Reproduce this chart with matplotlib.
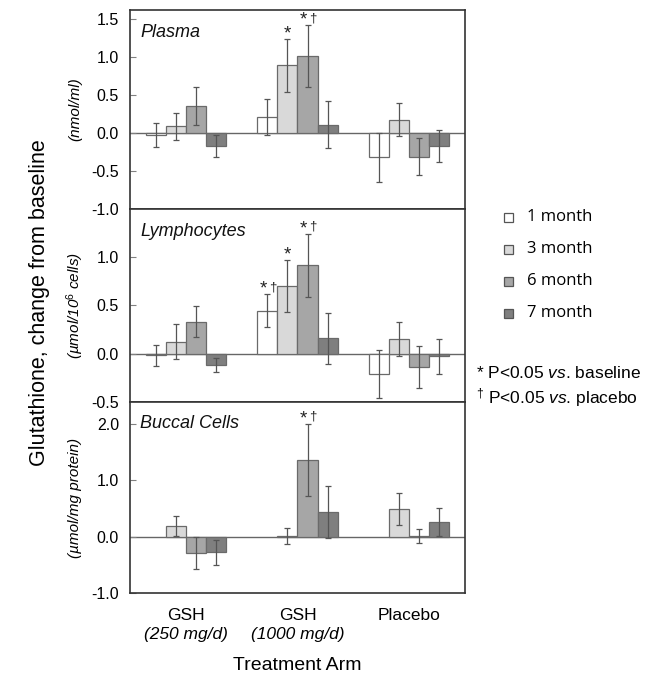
import matplotlib
matplotlib.use("Agg")
import matplotlib.pyplot as plt
import numpy as np
from matplotlib.patches import Rectangle

plt.rcParams['font.family'] = ['Liberation Sans', 'DejaVu Sans']
plt.rcParams['mathtext.fontset'] = 'custom'
plt.rcParams['mathtext.rm'] = 'Liberation Sans'
plt.rcParams['mathtext.it'] = 'Liberation Sans:italic'

groups = ["GSH\n(250 mg/d)", "GSH\n(1000 mg/d)", "Placebo"]
series = ["1 month", "3 month", "6 month", "7 month"]
colors = ["#ffffff", "#d9d9d9", "#a6a6a6", "#7f7f7f"]

# values per series (rows) x group (cols); nan = missing
plasma_val = [[-0.03, 0.21, -0.32],
              [0.09, 0.89, 0.175],
              [0.355, 1.01, -0.31],
              [-0.17, 0.11, -0.17]]
plasma_err = [[0.16, 0.235, 0.32],
              [0.18, 0.345, 0.22],
              [0.245, 0.41, 0.24],
              [0.14, 0.31, 0.21]]
lymph_val = [[-0.02, 0.44, -0.21],
             [0.12, 0.695, 0.15],
             [0.33, 0.91, -0.14],
             [-0.12, 0.155, -0.03]]
lymph_err = [[0.11, 0.17, 0.245],
             [0.18, 0.265, 0.18],
             [0.155, 0.325, 0.22],
             [0.07, 0.265, 0.18]]
buccal_val = [[np.nan, np.nan, np.nan],
              [0.185, 0.01, 0.49],
              [-0.29, 1.36, 0.01],
              [-0.28, 0.44, 0.26]]
buccal_err = [[np.nan, np.nan, np.nan],
              [0.175, 0.14, 0.29],
              [0.28, 0.645, 0.13],
              [0.22, 0.46, 0.25]]

# significance markers: (series index, group index, text)
plasma_sig = [(1, 1, "*"), (2, 1, "*\u2020")]
lymph_sig = [(0, 1, "*\u2020"), (1, 1, "*"), (2, 1, "*\u2020")]
buccal_sig = [(2, 1, "*\u2020")]

panels = [
    dict(name="Plasma", unit="(nmol/ml)", val=plasma_val, err=plasma_err, sig=plasma_sig,
         ylim=(-1.0, 1.62), ticks=[-1.0, -0.5, 0.0, 0.5, 1.0, 1.5]),
    dict(name="Lymphocytes", unit="(\u00b5mol/10$^{6}$ cells)", val=lymph_val, err=lymph_err, sig=lymph_sig,
         ylim=(-0.5, 1.49), ticks=[-0.5, 0.0, 0.5, 1.0]),
    dict(name="Buccal Cells", unit="(\u00b5mol/mg protein)", val=buccal_val, err=buccal_err, sig=buccal_sig,
         ylim=(-1.0, 2.39), ticks=[-1.0, 0.0, 1.0, 2.0]),
]

W, H = 650, 678
fig = plt.figure(figsize=(W / 100, H / 100), dpi=100)

left, right = 130, 465
bounds = [(10, 209), (209, 402), (402, 593)]
bw = 0.18
x = np.arange(len(groups))
offsets = (np.arange(4) - 1.5) * bw
frame_col = "#333333"

axes = []
for p, (t, b) in zip(panels, bounds):
    ax = fig.add_axes([left / W, 1 - b / H, (right - left) / W, (b - t) / H])
    axes.append(ax)
    ax.axhline(0, color="#666666", lw=1.0, zorder=1)
    for i in range(4):
        v = np.array(p["val"][i], dtype=float)
        e = np.array(p["err"][i], dtype=float)
        ax.bar(x + offsets[i], v, width=bw, color=colors[i], edgecolor="#6a6a6a",
               linewidth=0.9, zorder=2)
        ax.errorbar(x + offsets[i], v, yerr=e, fmt="none", ecolor="#555555",
                    elinewidth=0.9, capsize=2.5, capthick=0.9, zorder=3)
    for (si, gi, txt) in p["sig"]:
        v = p["val"][si][gi]
        e = p["err"][si][gi]
        xy = (x[gi] + offsets[si], v + e)
        has_dag = "\u2020" in txt
        ax.annotate("*", xy, xytext=(-3 if has_dag else 0, 0.5),
                    textcoords="offset points", ha="center", va="baseline",
                    fontsize=13.5, color="#222222")
        if has_dag:
            ax.annotate("\u2020", xy, xytext=(4, 3),
                        textcoords="offset points", ha="center", va="baseline",
                        fontsize=9.5, color="#222222")
    ax.set_xlim(-0.5, 2.5)
    ax.set_ylim(*p["ylim"])
    ax.set_yticks(p["ticks"])
    ax.set_yticklabels([f"{t:.1f}" for t in p["ticks"]], fontsize=11.5)
    ax.tick_params(axis="y", direction="in", length=4, color="#808080", pad=8)
    for s in ax.spines.values():
        s.set_color(frame_col)
        s.set_linewidth(1.2)
    ax.text(0.03, 0.93, p["name"], transform=ax.transAxes, ha="left", va="top",
            fontsize=13, style="italic", color="#111111")
    cy = 1 - ((t + b) / 2) / H
    fig.text(75 / W, cy, p["unit"], rotation=90, ha="center", va="center",
             fontsize=11, style="italic")

for ax in axes[:-1]:
    ax.set_xticks([])
ax = axes[-1]
ax.set_xticks(x)
ax.set_xticklabels([])
ax.tick_params(axis="x", length=0)
for gi in range(3):
    parts = groups[gi].split("\n")
    ax.text(x[gi], -0.12, parts[0], transform=ax.get_xaxis_transform(), ha="center",
            va="center", fontsize=12.5)
    if len(parts) > 1:
        ax.text(x[gi], -0.215, parts[1], transform=ax.get_xaxis_transform(), ha="center",
                va="center", fontsize=12.5, style="italic")

fig.text(297 / W, 1 - 665 / H, "Treatment Arm", ha="center", va="center", fontsize=14)
fig.text(40 / W, 1 - 303 / H, "Glutathione, change from baseline", rotation=90,
         ha="center", va="center", fontsize=15.5)

# legend
leg_y = [217, 249, 281, 313]
for lbl, c, yy in zip(series, colors, leg_y):
    sq = 9
    fig.add_artist(Rectangle(((508 - sq / 2) / W, 1 - (yy + sq / 2) / H), sq / W, sq / H,
                             facecolor=c, edgecolor="#555555", linewidth=0.9,
                             transform=fig.transFigure))
    fig.text(527 / W, 1 - yy / H, lbl, ha="left", va="center", fontsize=12,
             family=["Open Sans", "DejaVu Sans"])

fig.text(476 / W, 1 - 373 / H, "* P<0.05 $\\it{vs}$. baseline", ha="left", va="center", fontsize=12.5)
fig.text(476 / W, 1 - 398 / H, "$^{\u2020}$ P<0.05 $\\it{vs}$. placebo", ha="left", va="center", fontsize=12.5)

fig.savefig("out.png", dpi=100)
